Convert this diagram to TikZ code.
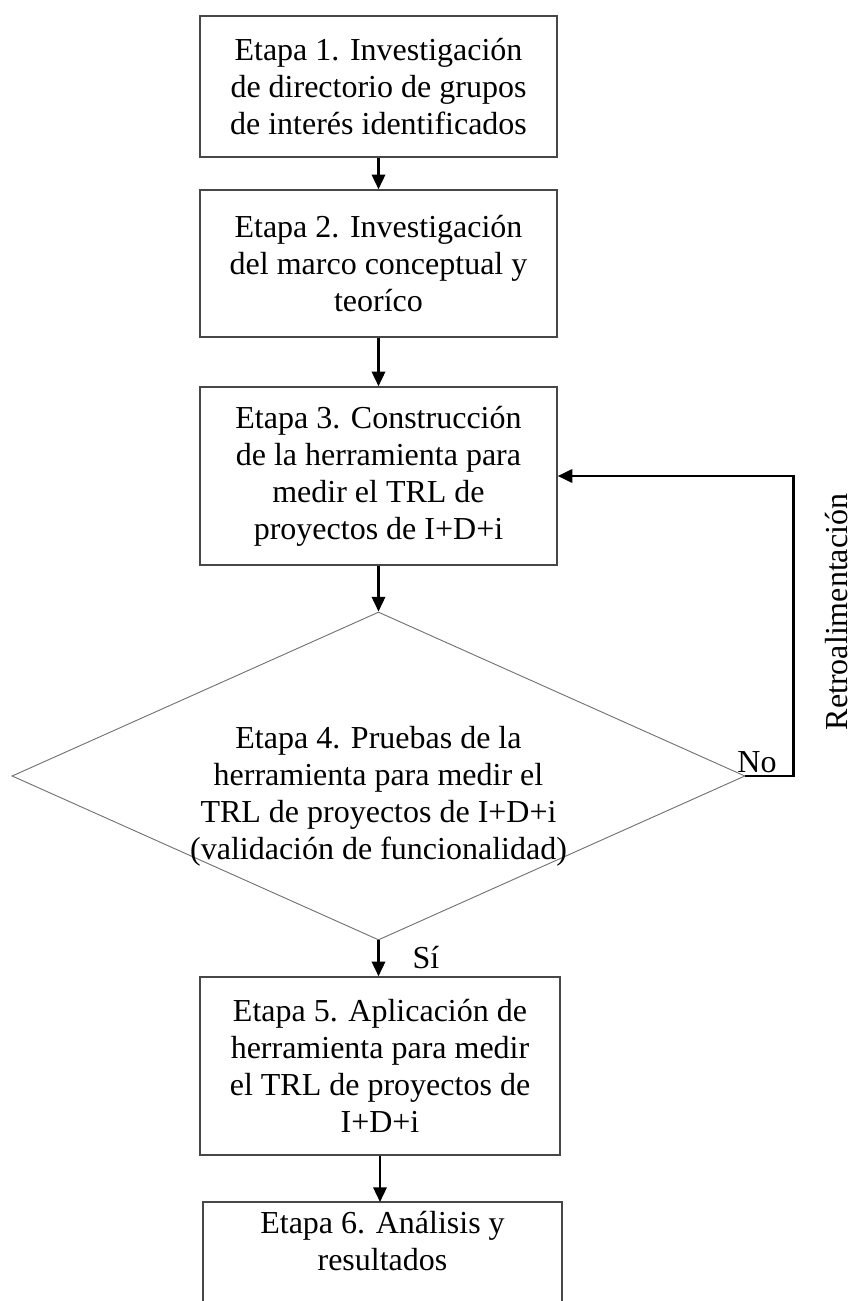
\documentclass[tikz,border=0pt]{standalone}
\usepackage{fontspec}
\setmainfont{Liberation Serif}
\usetikzlibrary{shapes.geometric,arrows.meta}
\begin{document}
\begin{tikzpicture}[x=0.75pt,y=-0.75pt,
  txtfont/.style={font=\fontsize{24pt}{27.75pt}\selectfont},
  stepbox/.style={draw=black!72, line width=1.1pt, minimum width=267.75pt, align=center, inner sep=0pt, txtfont},
  plaintext/.style={align=center, inner sep=0pt, txtfont},
  decbox/.style={diamond, draw=black!55, line width=0.7pt, minimum width=549.75pt, minimum height=246pt, inner sep=0pt, aspect=2.23},
  arr/.style={draw=black, line width=1.8pt, -{Triangle[length=11pt,width=10pt]}},
  fb/.style={draw=black, line width=2pt, line join=miter, -{Triangle[length=11pt,width=10pt]}},
  lbl/.style={inner sep=0pt, txtfont}
]
\useasboundingbox (0,0) rectangle (852,1301);
\clip (0,0) rectangle (852,1301);

\node[stepbox, minimum height=105.75pt] (s1) at (378.5,86.5)
  {Etapa 1. Investigación\\de directorio de grupos\\de interés identificados};
\node[stepbox, minimum height=110.25pt] (s2) at (378.5,263.5)
  {Etapa 2. Investigación\\del marco conceptual y\\teoríco};
\node[stepbox, minimum height=133.5pt] (s3) at (378.5,476)
  {Etapa 3. Construcción\\de la herramienta para\\medir el TRL de\\proyectos de I+D+i};
\node[decbox] (s4) at (378.5,776) {};
\node[plaintext] (s4t) at (378.5,796)
  {Etapa 4. Pruebas de la\\herramienta para medir el\\TRL de proyectos de I+D+i\\(validación de funcionalidad)};
\node[stepbox, minimum height=133.5pt, minimum width=270pt] (s5) at (380,1066)
  {Etapa 5. Aplicación de\\herramienta para medir\\el TRL de proyectos de\\I+D+i};
\coordinate (b6nw) at (203,1202);
\coordinate (b6se) at (562,1330);
\draw[draw=black!72, line width=1.1pt] (b6nw) rectangle (b6se);
\node[plaintext] (s6) at (382.5,1241) {Etapa 6. Análisis y\\resultados};

\draw[arr] (s1.south) -- (s2.north);
\draw[arr] (s2.south) -- (s3.north);
\draw[arr] (s3.south) -- (s4.north);
\draw[arr] (s4.south) -- (s4.south |- s5.north);
\draw[arr] (s5.south) -- (s5.south |- b6nw);
\draw[fb] (s4.east) -- ++(48,0) |- (s3.east);

\node[lbl, anchor=base] (no) at (757,772) {No};
\node[lbl, anchor=base] (si) at (426,968) {Sí};
\node[lbl, anchor=base, rotate=90] (retro) at (847,612) {Retroalimentación};
\end{tikzpicture}
\end{document}
